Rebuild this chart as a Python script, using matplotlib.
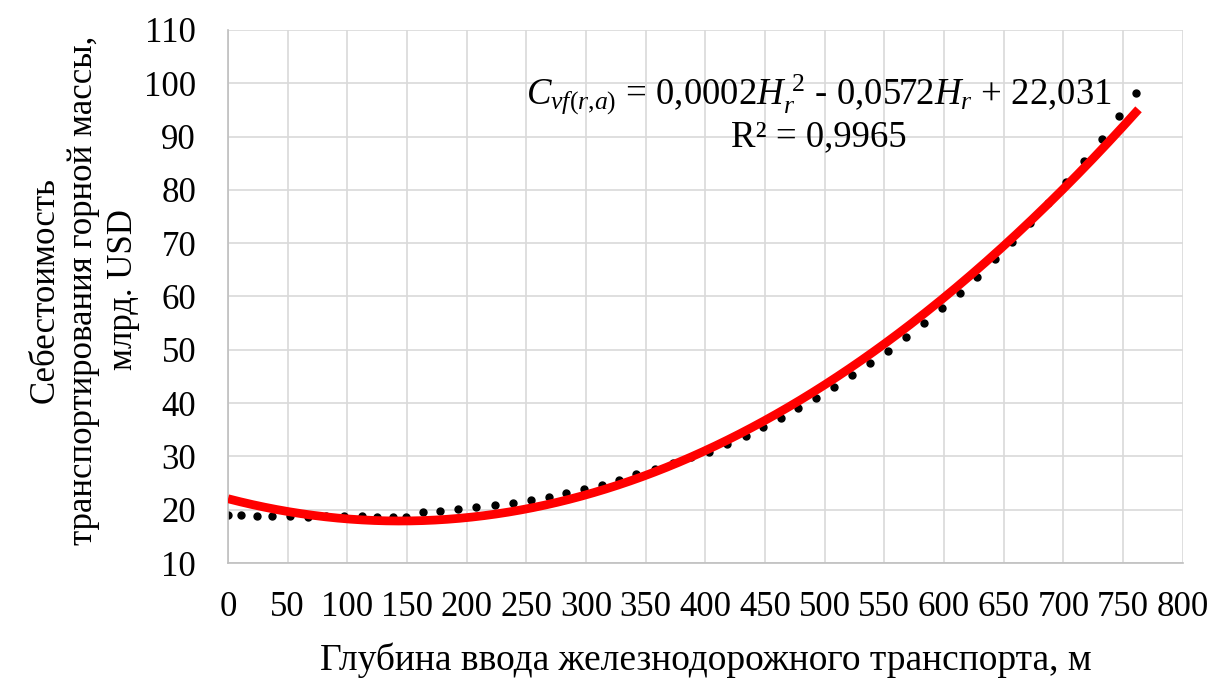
import numpy as np
import matplotlib
matplotlib.use("Agg")
import matplotlib.pyplot as plt

plt.rcParams['font.family'] = ['Liberation Serif', 'DejaVu Serif']
plt.rcParams['mathtext.fontset'] = 'custom'
plt.rcParams['mathtext.rm'] = 'Liberation Serif'
plt.rcParams['mathtext.it'] = 'Liberation Serif:italic'

depth = [0, 11, 24, 37, 52, 67, 82, 97, 112, 125, 138, 149,
         163, 178, 193, 208, 224, 239, 254, 269, 283, 298, 313, 328,
         342, 358, 373, 388, 403, 418, 434, 448, 463, 478, 493, 508,
         523, 538, 553, 568, 583, 598, 613, 628, 643, 657, 672, 687,
         702, 717, 732, 747, 761]
cost = [19.0, 19.0, 18.9, 18.9, 18.8, 18.7, 18.8, 18.8, 18.8, 18.7, 18.7, 18.7,
        19.6, 19.8, 20.1, 20.5, 20.9, 21.3, 21.9, 22.4, 23.1, 23.9, 24.7, 25.6,
        26.7, 27.7, 28.8, 29.9, 30.9, 32.3, 33.8, 35.5, 37.2, 39.1, 41.0, 43.0,
        45.3, 47.5, 49.8, 52.4, 55.0, 57.8, 60.7, 63.7, 67.0, 70.2, 73.8, 77.5,
        81.5, 85.4, 89.5, 93.8, 98.2]

x_ticks = list(range(0, 801, 50))
y_ticks = list(range(10, 111, 10))

fig = plt.figure(figsize=(12.13, 6.78), dpi=100)
ax = fig.add_axes([0.188, 0.1696, 0.787, 0.7862])

x = np.array(depth, dtype=float)
y = np.array(cost, dtype=float)
coef = np.polyfit(x, y, 2)
xf = np.linspace(0, x.max() + 2, 300)
ax.plot(xf, np.polyval(coef, xf), color='#ff0000', lw=6.3, solid_capstyle='butt', zorder=3)
ax.plot(x, y, 'o', color='black', ms=5, zorder=2)

ax.set_xlim(0, 800)
ax.set_ylim(10, 110)
ax.set_xticks(x_ticks)
ax.set_yticks(y_ticks)
ax.grid(True, color='#d9d9d9', lw=1.2, zorder=0)
ax.set_axisbelow(True)
for s in ['top', 'right']:
    ax.spines[s].set_visible(False)
for s in ['left', 'bottom']:
    ax.spines[s].set_color('#bfbfbf')
    ax.spines[s].set_linewidth(1.2)
ax.tick_params(axis='both', length=0, labelsize=25)
ax.tick_params(axis='x', pad=20)
ax.tick_params(axis='y', pad=23)

fig.text(0.5 * (228 + 1183) / 1213, (678 - 660) / 678,
         'Глубина ввода железнодорожного транспорта, м',
         ha='center', va='center', fontsize=27)
fig.text(84 / 1213, (678 - 290) / 678,
         'Себестоимость\nтранспортирования горной массы,\nмлрд. USD',
         ha='center', va='center', rotation=90, fontsize=25,
         multialignment='center', linespacing=1.25)

ax.text(0.619, 0.878,
        r'$C_{vf(r{,}a)}$ = 0,0002$H_r^{\ 2}$ - 0,0572$H_r$ + 22,031',
        transform=ax.transAxes, ha='center', va='center', fontsize=26.5)
ax.text(0.619, 0.80, 'R² = 0,9965', transform=ax.transAxes,
        ha='center', va='center', fontsize=26.5)

fig.savefig('out.png', dpi=100)
